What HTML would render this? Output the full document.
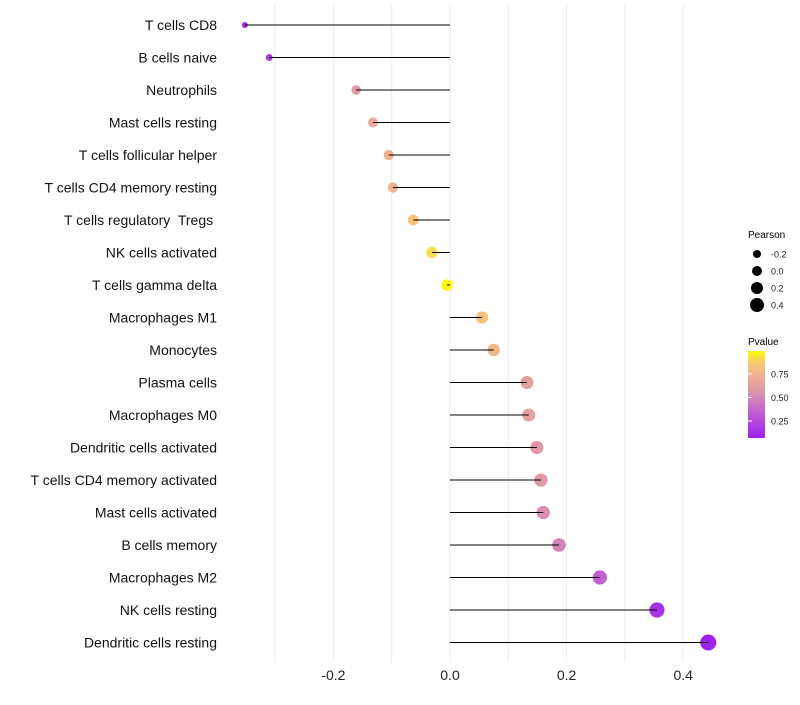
<!DOCTYPE html>
<html><head><meta charset="utf-8"><style>
body{margin:0;background:#fff;font-family:"Liberation Sans",sans-serif}
svg text{font-family:"Liberation Sans",sans-serif;white-space:pre}
</style></head><body>
<svg id="chart" width="800" height="700">
<defs><linearGradient id="pg" x1="0" y1="1" x2="0" y2="0">
<stop offset="0" stop-color="#a020f0"/><stop offset="0.3" stop-color="#c060d0"/><stop offset="0.5" stop-color="#d890b0"/><stop offset="0.72" stop-color="#eeb090"/><stop offset="0.87" stop-color="#f5cc70"/><stop offset="1" stop-color="#ffff00"/></linearGradient></defs>
<g id="grid"></g><g id="dots"></g><g id="marks"></g><g id="ylabels"></g><g id="xlabels"></g>
<g id="legend">
<text x="748" y="238" font-size="10">Pearson</text>
<g id="sizeLeg"></g>
<text x="748" y="345" font-size="10">Pvalue</text>
<rect x="748" y="351" width="17" height="87" fill="url(#pg)"/>
<g id="colorLeg"></g>
</g>
</svg>
<script>
const categories=["T cells CD8","B cells naive","Neutrophils","Mast cells resting","T cells follicular helper","T cells CD4 memory resting","T cells regulatory  Tregs ","NK cells activated","T cells gamma delta","Macrophages M1","Monocytes","Plasma cells","Macrophages M0","Dendritic cells activated","T cells CD4 memory activated","Mast cells activated","B cells memory","Macrophages M2","NK cells resting","Dendritic cells resting"];
const pearson=[-0.352,-0.31,-0.161,-0.132,-0.105,-0.098,-0.063,-0.031,-0.005,0.055,0.075,0.132,0.135,0.149,0.156,0.16,0.187,0.257,0.355,0.443];
const pvalue=[0.1,0.15,0.55,0.65,0.7,0.72,0.82,0.9,0.98,0.8,0.75,0.6,0.6,0.55,0.55,0.5,0.45,0.3,0.12,0.05];
const xTicks=[-0.2,0.0,0.2,0.4];
const xTickLabels=["-0.2","0.0","0.2","0.4"];
const sizeLegendValues=[-0.2,0.0,0.2,0.4];
const sizeLegendLabels=["-0.2","0.0","0.2","0.4"];
const colorLegendValues=[0.25,0.5,0.75];
const colorLegendLabels=["0.25","0.50","0.75"];
const NS="http://www.w3.org/2000/svg";
const x=v=>450+v*583;
const y=i=>25+i*32.5;
const r=v=>Math.max(2,Math.sqrt(Math.max(0,33.5+68.7*v)));
const stops=[[0.05,[160,32,240]],[0.3,[192,96,208]],[0.5,[216,144,176]],[0.7,[238,176,144]],[0.85,[245,204,112]],[1,[255,255,0]]];
function col(p){if(p<=stops[0][0])return "rgb("+stops[0][1]+")";for(let k=1;k<stops.length;k++){if(p<=stops[k][0]){const a=stops[k-1],b=stops[k],t=(p-a[0])/(b[0]-a[0]);return "rgb("+a[1].map((c,j)=>Math.round(c+(b[1][j]-c)*t)).join(",")+")";}}return "rgb(255,255,0)";}
function mk(tag,attrs,parent){const e=document.createElementNS(NS,tag);for(const k in attrs)e.setAttribute(k,attrs[k]);document.getElementById(parent).appendChild(e);return e;}
for(let k=-3;k<=4;k++){const v=k/10;const g=mk("line",{x1:x(v),x2:x(v),y1:5,y2:662,stroke:"#ebebeb","stroke-width":1},"grid");

}
categories.forEach((c,i)=>{
const p=mk("circle",{cx:x(pearson[i]),cy:y(i),r:r(pearson[i]),fill:col(pvalue[i])},"dots");


const l=mk("line",{x1:x(0),x2:x(pearson[i]),y1:y(i),y2:y(i),stroke:"#000","stroke-width":1},"marks");


const t=mk("text",{x:217,y:y(i)+5,"text-anchor":"end","font-size":14,fill:"#111"},"ylabels");t.textContent=c;


});
xTicks.forEach((v,i)=>{const t=mk("text",{x:x(v),y:680,"text-anchor":"middle","font-size":14,fill:"#222"},"xlabels");t.textContent=xTickLabels[i];

});
sizeLegendValues.forEach((v,i)=>{const cy=254+i*17;
const c=mk("circle",{cx:757,cy:cy,r:5+v*5,fill:"#000"},"sizeLeg");


const t=mk("text",{x:771,y:cy+3.5,"font-size":9,fill:"#222"},"sizeLeg");t.textContent=sizeLegendLabels[i];

});
colorLegendValues.forEach((v,i)=>{const cy=421-(v-0.25)*94;
const l=mk("line",{x1:748,x2:752,y1:cy,y2:cy,stroke:"#fff"},"colorLeg");


const t=mk("text",{x:771,y:cy+3.5,"font-size":9,fill:"#222"},"colorLeg");t.textContent=colorLegendLabels[i];

});
</script>
</body></html>
